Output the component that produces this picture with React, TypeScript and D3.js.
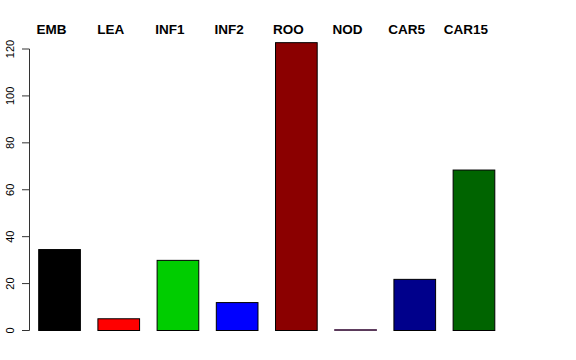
import React from "react";
import * as d3 from "d3";

const categories = ["EMB", "LEA", "INF1", "INF2", "ROO", "NOD", "CAR5", "CAR15"];
const values = [34.5, 5.0, 29.9, 11.9, 122.7, 0.4, 21.8, 68.4];
const colors = ["#000000", "#FF0000", "#00CD00", "#0000FF", "#8B0000", "#8B008B", "#00008B", "#006400"];
const yTicks = [0, 20, 40, 60, 80, 100, 120];

const W = 576;
const H = 360;

export default function App() {
  const x = d3
    .scaleBand<string>()
    .domain(categories)
    .range([38.7, 494.8])
    .paddingInner(0.296)
    .paddingOuter(0);
  const y = d3.scaleLinear().domain([0, 120]).range([330.5, 49]);
  const axisX = 29.5;

  return (
    <svg
      width={W}
      height={H}
      style={{ position: "absolute", left: 0, top: 0, display: "block", background: "#fff" }}
      fontFamily="'Liberation Sans', Arial, Helvetica, sans-serif"
    >
      <rect x={0} y={0} width={W} height={H} fill="#fff" />
      {categories.map((c, i) => {
        const x0 = x(c)!;
        const bw = x.bandwidth();
        const top = y(values[i]);
        const bottom = y(0);
        return (
          <rect
            key={c}
            x={x0}
            y={top}
            width={bw}
            height={Math.max(bottom - top, 0.5)}
            fill={colors[i]}
            stroke={values[i] < 1 ? "#5a3a5a" : "#000"}
            strokeWidth={1}
          />
        );
      })}
      {categories.map((c) => (
        <text
          key={"l" + c}
          x={x(c)! + x.bandwidth() / 2 - 8}
          y={34}
          textAnchor="middle"
          fontWeight="bold"
          fontSize={13.5}
          fill="#000"
        >
          {c}
        </text>
      ))}
      <line x1={axisX} x2={axisX} y1={y(0)} y2={y(120)} stroke="#333" strokeWidth={1} />
      {yTicks.map((t) => (
        <g key={"t" + t}>
          <line x1={axisX - 7.5} x2={axisX} y1={y(t)} y2={y(t)} stroke="#333" strokeWidth={1} />
          <text
            transform={`translate(${14},${y(t)}) rotate(-90)`}
            textAnchor="middle"
            fontSize={11}
            fill="#000"
          >
            {t}
          </text>
        </g>
      ))}
    </svg>
  );
}
